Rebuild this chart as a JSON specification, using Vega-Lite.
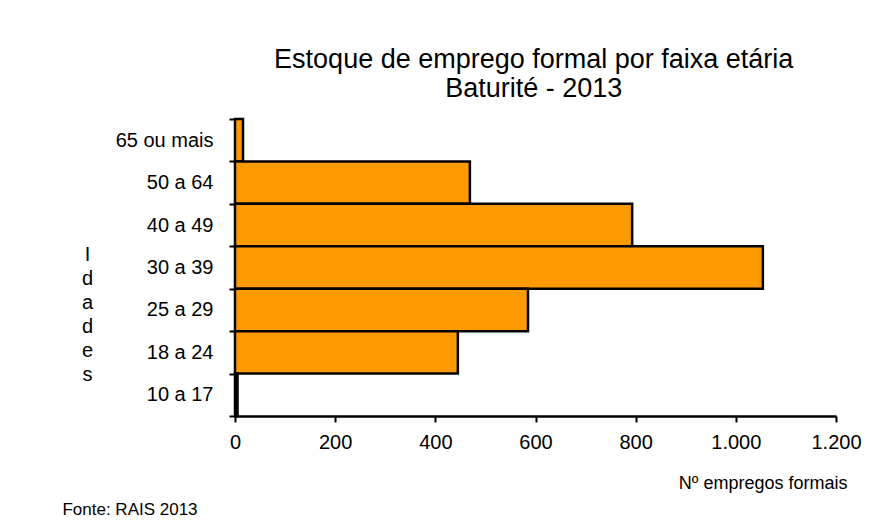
{
  "$schema": "https://vega.github.io/schema/vega-lite/v6.json",
  "padding": {"left": 62, "top": 46, "right": 5, "bottom": 5},
  "background": "white",
  "title": {
    "text": ["Estoque de emprego formal por faixa etária", "Baturité - 2013"],
    "fontSize": 27, "font": "Liberation Sans", "fontWeight": "normal", "color": "black",
    "lineHeight": 29, "anchor": "middle", "offset": 6, "dx": 72
  },
  "vconcat": [
    {
      "width": 601,
      "height": 297,
      "title": {
        "text": "Fonte: RAIS 2013", "orient": "bottom", "anchor": "start", "dx": -19,
        "fontSize": 17, "fontWeight": "normal", "font": "Liberation Sans", "color": "black", "offset": 10
      },
      "data": {
        "values": [
          {"faixa": "65 ou mais", "empregos": 16},
          {"faixa": "50 a 64", "empregos": 469},
          {"faixa": "40 a 49", "empregos": 793},
          {"faixa": "30 a 39", "empregos": 1054},
          {"faixa": "25 a 29", "empregos": 585},
          {"faixa": "18 a 24", "empregos": 445},
          {"faixa": "10 a 17", "empregos": 5}
        ]
      },
      "mark": {"type": "bar", "color": "#FF9900", "stroke": "black", "strokeWidth": 2.5},
      "encoding": {
        "y": {
          "field": "faixa", "type": "nominal", "sort": null,
          "scale": {"paddingInner": 0, "paddingOuter": 0},
          "axis": {
            "title": ["I", "d", "a", "d", "e", "s"],
            "titleAngle": 0, "titleFontSize": 20, "titleFontWeight": "normal", "titleColor": "black",
            "titleLineHeight": 24, "titleX": -148, "titleY": 125, "titleAlign": "center", "titleBaseline": "top",
            "domainColor": "black", "domainWidth": 2.5,
            "tickBand": "extent", "tickColor": "black", "tickWidth": 2, "tickSize": 6,
            "labelFontSize": 20, "labelColor": "black", "labelPadding": 16
          }
        },
        "x": {
          "field": "empregos", "type": "quantitative",
          "scale": {"domain": [0, 1200], "nice": false},
          "axis": {
            "values": [0, 200, 400, 600, 800, 1000, 1200], "format": ",d",
            "grid": false, "labelFlush": false,
            "title": "Nº empregos formais", "titleFontSize": 18, "titleFontWeight": "normal", "titleColor": "black",
            "titleX": 612, "titleY": 72, "titleAlign": "right", "titleBaseline": "alphabetic",
            "domainColor": "black", "domainWidth": 2.5,
            "tickColor": "black", "tickWidth": 2, "tickSize": 6,
            "labelFontSize": 20, "labelColor": "black", "labelPadding": 10
          }
        }
      }
    }
  ],
  "config": {
    "view": {"stroke": null},
    "font": "Liberation Sans",
    "locale": {"number": {"decimal": ",", "thousands": ".", "grouping": [3], "currency": ["R$", ""]}}
  }
}
